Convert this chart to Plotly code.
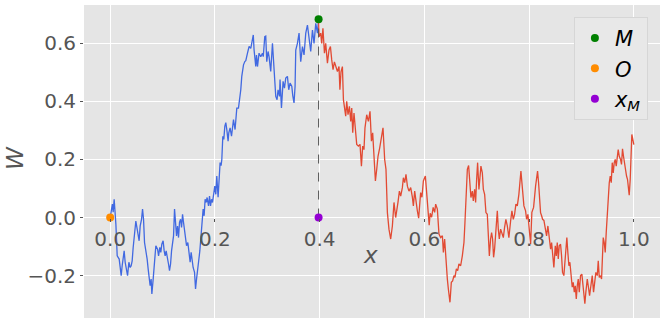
import plotly.graph_objects as go

# path of W on [0, x_M] (blue) and [x_M, 1] (red)
blue_x = [
    0.0000, 0.0042, 0.0057, 0.0076, 0.0109, 0.0134, 0.0172, 0.0210, 0.0229, 0.0248,
    0.0267, 0.0286, 0.0313, 0.0332, 0.0357, 0.0382, 0.0401, 0.0420, 0.0439, 0.0458,
    0.0477, 0.0490, 0.0510, 0.0529, 0.0553, 0.0573, 0.0599, 0.0618, 0.0637, 0.0656,
    0.0681, 0.0706, 0.0725, 0.0744, 0.0763, 0.0782, 0.0796, 0.0821, 0.0840, 0.0859,
    0.0872, 0.0905, 0.0924, 0.0948, 0.0967, 0.0986, 0.1011, 0.1031, 0.1050, 0.1069,
    0.1095, 0.1114, 0.1133, 0.1153, 0.1172, 0.1191, 0.1210, 0.1229, 0.1248, 0.1267,
    0.1286, 0.1305, 0.1324, 0.1344, 0.1363, 0.1382, 0.1401, 0.1420, 0.1439, 0.1458,
    0.1483, 0.1508, 0.1527, 0.1546, 0.1565, 0.1584, 0.1611, 0.1630, 0.1649, 0.1668,
    0.1687, 0.1712, 0.1737, 0.1756, 0.1775, 0.1794, 0.1813, 0.1832, 0.1851, 0.1878,
    0.1897, 0.1916, 0.1935, 0.1954, 0.1973, 0.1998, 0.2017, 0.2036, 0.2061, 0.2080,
    0.2099, 0.2118, 0.2132, 0.2151, 0.2170, 0.2189, 0.2208, 0.2227, 0.2252, 0.2265,
    0.2290, 0.2317, 0.2355, 0.2385, 0.2418, 0.2450, 0.2475, 0.2494, 0.2513, 0.2546,
    0.2571, 0.2590, 0.2622, 0.2653, 0.2685, 0.2718, 0.2733, 0.2748, 0.2761, 0.2780,
    0.2794, 0.2813, 0.2843, 0.2876, 0.2908, 0.2923, 0.2952, 0.2971, 0.2990, 0.3015,
    0.3034, 0.3066, 0.3099, 0.3130, 0.3162, 0.3187, 0.3206, 0.3233, 0.3244, 0.3271,
    0.3302, 0.3328, 0.3353, 0.3385, 0.3410, 0.3435, 0.3468, 0.3487, 0.3511, 0.3531,
    0.3544, 0.3576, 0.3607, 0.3639, 0.3672, 0.3702, 0.3735, 0.3767, 0.3798, 0.3830,
    0.3863, 0.3893, 0.3926, 0.3958, 0.3980,
]
blue_w = [
    0.000, 0.046, 0.018, 0.063, -0.023, -0.132, -0.143, -0.200, -0.166, -0.143,
    -0.115, -0.154, -0.177, -0.200, -0.154, -0.172, -0.166, -0.149, -0.103, -0.075,
    -0.052, -0.012, -0.034, -0.052, -0.080, -0.029, -0.006, 0.029, -0.006, -0.086,
    -0.109, -0.143, -0.177, -0.200, -0.235, -0.212, -0.263, -0.212, -0.166, -0.143,
    -0.097, -0.109, -0.132, -0.103, -0.120, -0.092, -0.080, -0.115, -0.132, -0.115,
    -0.137, -0.160, -0.183, -0.160, -0.115, -0.092, -0.063, 0.029, -0.017, -0.063,
    -0.029, -0.069, -0.017, -0.006, -0.034, 0.011, -0.017, -0.040, -0.069, -0.097,
    -0.086, -0.120, -0.154, -0.120, -0.154, -0.172, -0.189, -0.246, -0.212, -0.189,
    -0.154, -0.115, -0.052, -0.012, 0.029, 0.006, 0.063, 0.052, 0.069, 0.040,
    0.074, 0.040, 0.063, 0.052, 0.086, 0.108, 0.080, 0.143, 0.070, 0.131,
    0.189, 0.179, 0.200, 0.280, 0.269, 0.314, 0.327, 0.303, 0.263, 0.292,
    0.309, 0.280, 0.337, 0.303, 0.377, 0.377, 0.406, 0.440, 0.486, 0.526,
    0.537, 0.540, 0.566, 0.589, 0.583, 0.625, 0.629, 0.577, 0.537, 0.520,
    0.560, 0.520, 0.566, 0.554, 0.566, 0.554, 0.623, 0.625, 0.537, 0.572,
    0.554, 0.503, 0.600, 0.520, 0.417, 0.406, 0.440, 0.417, 0.475, 0.377,
    0.469, 0.446, 0.480, 0.486, 0.440, 0.463, 0.452, 0.420, 0.395, 0.452,
    0.577, 0.600, 0.635, 0.537, 0.589, 0.560, 0.635, 0.663, 0.612, 0.572,
    0.646, 0.600, 0.669, 0.635, 0.683,
]

red_x = [
    0.3980, 0.3989, 0.4021, 0.4040, 0.4063, 0.4092, 0.4116, 0.4149, 0.4179, 0.4206,
    0.4231, 0.4256, 0.4282, 0.4307, 0.4340, 0.4370, 0.4387, 0.4408, 0.4435, 0.4454,
    0.4473, 0.4498, 0.4517, 0.4542, 0.4569, 0.4594, 0.4613, 0.4632, 0.4656, 0.4689,
    0.4708, 0.4740, 0.4771, 0.4798, 0.4822, 0.4847, 0.4866, 0.4899, 0.4931, 0.4962,
    0.4989, 0.5013, 0.5038, 0.5065, 0.5090, 0.5115, 0.5147, 0.5179, 0.5210, 0.5242,
    0.5267, 0.5294, 0.5324, 0.5357, 0.5389, 0.5420, 0.5452, 0.5496, 0.5523, 0.5548,
    0.5580, 0.5599, 0.5624, 0.5649, 0.5676, 0.5706, 0.5739, 0.5771, 0.5790, 0.5815,
    0.5840, 0.5866, 0.5891, 0.5910, 0.5929, 0.5954, 0.5981, 0.6019, 0.6044, 0.6069,
    0.6092, 0.6111, 0.6139, 0.6168, 0.6197, 0.6216, 0.6248, 0.6279, 0.6311, 0.6344,
    0.6363, 0.6387, 0.6406, 0.6426, 0.6439, 0.6458, 0.6469, 0.6489, 0.6515, 0.6540,
    0.6565, 0.6584, 0.6611, 0.6636, 0.6660, 0.6693, 0.6725, 0.6756, 0.6775, 0.6802,
    0.6821, 0.6845, 0.6870, 0.6889, 0.6916, 0.6935, 0.6960, 0.6979, 0.6998, 0.7017,
    0.7042, 0.7061, 0.7080, 0.7107, 0.7126, 0.7151, 0.7176, 0.7202, 0.7221, 0.7241,
    0.7265, 0.7284, 0.7303, 0.7322, 0.7341, 0.7366, 0.7393, 0.7412, 0.7431, 0.7456,
    0.7481, 0.7508, 0.7532, 0.7557, 0.7584, 0.7614, 0.7647, 0.7672, 0.7698, 0.7723,
    0.7748, 0.7775, 0.7805, 0.7824, 0.7844, 0.7863, 0.7882, 0.7901, 0.7933, 0.7952,
    0.7977, 0.8004, 0.8029, 0.8053, 0.8086, 0.8124, 0.8143, 0.8162, 0.8181, 0.8200,
    0.8219, 0.8239, 0.8258, 0.8283, 0.8315, 0.8334, 0.8359, 0.8386, 0.8411, 0.8430,
    0.8449, 0.8473, 0.8500, 0.8519, 0.8538, 0.8557, 0.8576, 0.8601, 0.8620, 0.8639,
    0.8664, 0.8683, 0.8702, 0.8721, 0.8740, 0.8760, 0.8779, 0.8798, 0.8824, 0.8843,
    0.8863, 0.8882, 0.8901, 0.8920, 0.8939, 0.8958, 0.8983, 0.9008, 0.9027, 0.9046,
    0.9065, 0.9084, 0.9111, 0.9130, 0.9155, 0.9180, 0.9206, 0.9231, 0.9256, 0.9275,
    0.9302, 0.9321, 0.9340, 0.9364, 0.9384, 0.9403, 0.9416, 0.9435, 0.9454, 0.9473,
    0.9492, 0.9511, 0.9531, 0.9550, 0.9569, 0.9588, 0.9607, 0.9626, 0.9645, 0.9664,
    0.9683, 0.9702, 0.9722, 0.9746, 0.9765, 0.9784, 0.9803, 0.9823, 0.9842, 0.9861,
    0.9880, 0.9899, 0.9912, 0.9931, 0.9950, 0.9962, 0.9981, 1.0000,
]
red_w = [
    0.683, 0.623, 0.635, 0.600, 0.652, 0.566, 0.600, 0.532, 0.577, 0.589,
    0.543, 0.509, 0.536, 0.523, 0.503, 0.520, 0.440, 0.502, 0.520, 0.406,
    0.372, 0.349, 0.400, 0.354, 0.383, 0.331, 0.377, 0.292, 0.360, 0.303,
    0.252, 0.246, 0.252, 0.177, 0.246, 0.234, 0.309, 0.354, 0.331, 0.366,
    0.263, 0.292, 0.200, 0.126, 0.166, 0.211, 0.240, 0.274, 0.309, 0.200,
    0.166, 0.017, -0.040, -0.074, -0.029, 0.052, 0.000, 0.052, 0.091, 0.074,
    0.103, 0.137, 0.120, 0.149, 0.108, 0.091, 0.103, 0.070, 0.040, 0.091,
    0.046, 0.023, -0.002, 0.040, 0.086, 0.070, 0.126, 0.143, 0.086, 0.006,
    -0.026, 0.015, 0.001, 0.035, 0.018, 0.046, 0.029, -0.057, -0.069, -0.063,
    -0.120, -0.074, -0.143, -0.177, -0.212, -0.246, -0.269, -0.292, -0.223, -0.218,
    -0.200, -0.206, -0.177, -0.183, -0.160, -0.166, -0.132, -0.086, -0.017, 0.097,
    0.166, 0.179, 0.103, 0.069, 0.091, 0.057, 0.097, 0.052, 0.131, 0.189,
    0.097, 0.131, 0.177, 0.154, 0.097, 0.080, 0.017, 0.011, -0.063, -0.132,
    -0.074, -0.052, -0.074, -0.137, -0.109, -0.052, 0.023, -0.040, -0.074, -0.040,
    -0.052, -0.069, -0.034, -0.006, -0.029, -0.069, -0.012, 0.023, -0.006, 0.011,
    0.046, 0.040, 0.080, 0.131, 0.160, 0.120, 0.063, 0.040, 0.023, -0.006,
    0.011, -0.040, -0.092, 0.018, 0.035, 0.108, 0.149, 0.160, 0.120, 0.074,
    0.017, 0.006, -0.006, -0.010, -0.040, -0.063, -0.029, -0.074, -0.109, -0.086,
    -0.120, -0.172, -0.097, -0.132, -0.086, -0.143, -0.097, -0.092, -0.132, -0.189,
    -0.200, -0.154, -0.097, -0.069, -0.120, -0.166, -0.154, -0.189, -0.240, -0.223,
    -0.257, -0.235, -0.280, -0.235, -0.212, -0.257, -0.200, -0.195, -0.235, -0.280,
    -0.297, -0.257, -0.212, -0.235, -0.269, -0.235, -0.200, -0.257, -0.223, -0.189,
    -0.200, -0.149, -0.206, -0.200, -0.212, -0.120, -0.069, -0.086, -0.120, -0.052,
    0.006, 0.097, 0.120, 0.143, 0.120, 0.189, 0.154, 0.189, 0.200, 0.177,
    0.223, 0.234, 0.211, 0.200, 0.183, 0.237, 0.211, 0.189, 0.154, 0.143,
    0.131, 0.108, 0.077, 0.131, 0.223, 0.286, 0.269, 0.251,
]

assert len(blue_x) == len(blue_w), (len(blue_x), len(blue_w))
assert len(red_x) == len(red_w), (len(red_x), len(red_w))

# special points
point_names = ["<i>M</i>", "<i>O</i>", "<i>x</i><sub><i>M</i></sub>"]
point_x = [0.398, 0.0, 0.398]
point_w = [0.683, 0.0, 0.0]
point_colors = ["#008000", "#FF8C00", "#9400D3"]

BLUE = "#4169E1"
RED = "#E24A33"
TEXT = "#555555"
FONT = "DejaVu Sans"

Y_RANGE = [-0.346, 0.732]

fig = go.Figure()

fig.add_trace(go.Scatter(x=blue_x, y=blue_w, mode="lines",
                         line=dict(color=BLUE, width=1.3),
                         showlegend=False, hoverinfo="skip"))
fig.add_trace(go.Scatter(x=red_x, y=red_w, mode="lines",
                         line=dict(color=RED, width=1.3),
                         showlegend=False, hoverinfo="skip"))

# dashed drop from M down to x_M
fig.add_trace(go.Scatter(x=[point_x[2], point_x[0]], y=[point_w[2], point_w[0]],
                         mode="lines", line=dict(color="#555555", width=1, dash="dash"),
                         showlegend=False, hoverinfo="skip"))

for name, px_, pw, c in zip(point_names, point_x, point_w, point_colors):
    fig.add_trace(go.Scatter(x=[px_], y=[pw], mode="markers", name=name,
                             marker=dict(color=c, size=8)))

# x axis sits on W = 0, like a centred spine
zero_pos = (0 - Y_RANGE[0]) / (Y_RANGE[1] - Y_RANGE[0])

axis_common = dict(
    showgrid=True, gridcolor="white", gridwidth=1.3,
    zeroline=False, showline=False, automargin=False,
    ticks="outside", ticklen=3, tickcolor=TEXT, tickwidth=1,
    tickfont=dict(size=20, color=TEXT, family=FONT),
    tickformat=".1f", dtick=0.2, tick0=0,
)

fig.update_layout(
    width=664, height=325,
    margin=dict(l=84, r=4, t=5, b=7),
    paper_bgcolor="white",
    plot_bgcolor="#E5E5E5",
    xaxis=dict(range=[-0.05, 1.05], anchor="free", position=zero_pos, **axis_common),
    yaxis=dict(range=Y_RANGE, **axis_common),
    legend=dict(
        x=0.979, y=0.962, xanchor="right", yanchor="top",
        bgcolor="#E8E8E8", bordercolor="#D6D6D6", borderwidth=1,
        font=dict(size=21, color="black", family=FONT),
        itemwidth=30, tracegroupgap=0,
    ),
    annotations=[
        dict(text="<i>x</i>", x=0.498, y=-0.13, xref="x", yref="y",
             xanchor="center", yanchor="middle",
             showarrow=False, font=dict(size=23, color=TEXT, family=FONT)),
        dict(text="<i>W</i>", x=-0.12, y=0.511, xref="paper", yref="paper",
             xanchor="center", yanchor="middle",
             textangle=-90, showarrow=False, font=dict(size=23, color=TEXT, family=FONT)),
    ],
)

# drop the browser's default body margin so the figure sits at the page corner
fig.write_html("out.html", config={"displayModeBar": False},
               post_script="document.body.style.margin='0';")
